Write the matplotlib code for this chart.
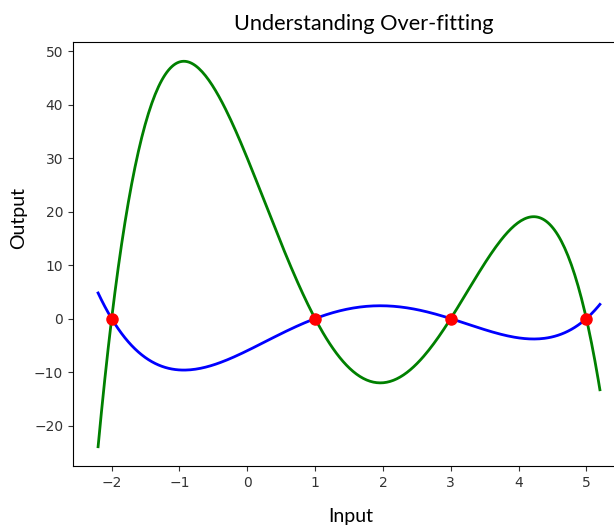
import matplotlib
matplotlib.use('Agg')
import matplotlib.pyplot as plt
import numpy as np

# training points
x_points = [-2, 1, 3, 5]
y_points = [0, 0, 0, 0]

# polynomial fits (coefficients, highest power first)
good_fit = [0.2, -1.4, 1.0, 6.2, -6.0]
over_fit = [-1.0, 7.0, -5.0, -31.0, 30.0]
x_range = [-2.2, 5.2]

x = np.linspace(x_range[0], x_range[1], 300)

fig = plt.figure(figsize=(6.14, 5.25), dpi=100)
ax = fig.add_axes([73/614, 59/525, 552/614, 424/525])

ax.plot(x, np.polyval(over_fit, x), color='green', lw=2)
ax.plot(x, np.polyval(good_fit, x), color='blue', lw=2)
ax.plot(x_points, y_points, 'ro', markersize=8)

ax.set_xticks([-2, -1, 0, 1, 2, 3, 4, 5])
ax.tick_params(labelsize=10, colors='#333333')
ax.set_title('Understanding Over-fitting', fontsize=15.7, family='Lato', x=0.527, pad=9)
ax.set_xlabel('Input', fontsize=14, family='Lato')
ax.set_ylabel('Output', fontsize=14, family='Lato')
ax.yaxis.set_label_coords(-0.084, 0.585)
ax.xaxis.set_label_coords(0.503, -0.098)

fig.savefig('out.png', dpi=100)
